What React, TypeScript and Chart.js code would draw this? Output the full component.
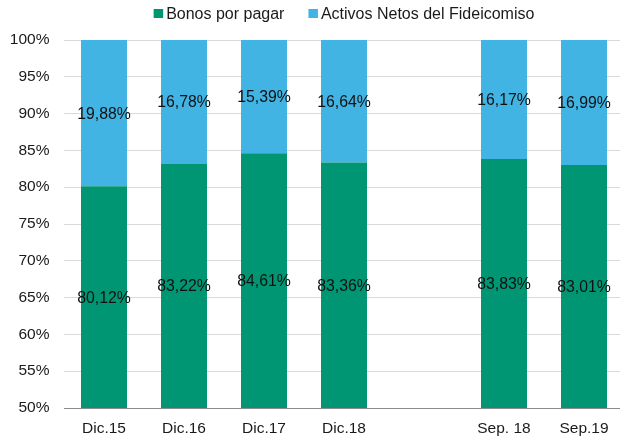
import React, { useEffect, useRef } from "react";
import { Chart, registerables } from "chart.js";

Chart.register(...registerables);

const categories = ["Dic.15", "Dic.16", "Dic.17", "Dic.18", "", "Sep. 18", "Sep.19"];
const bonosPorPagar = [80.12, 83.22, 84.61, 83.36, null, 83.83, 83.01];
const activosNetos = [19.88, 16.78, 15.39, 16.64, null, 16.17, 16.99];
const seriesNames = ["Bonos por pagar", "Activos Netos del Fideicomiso"];
const seriesColors = ["#009673", "#42B4E4"];

const FONT = '"Liberation Sans", Arial, sans-serif';

const fmt = (v: number) => v.toFixed(2).replace(".", ",") + "%";

const labelPlugin = {
  id: "segLabels",
  afterDatasetsDraw(chart: any) {
    const ctx = chart.ctx;
    const area = chart.chartArea;
    ctx.save();
    ctx.font = `15.8px ${FONT}`;
    ctx.fillStyle = "#111111";
    ctx.textAlign = "center";
    ctx.textBaseline = "middle";
    chart.data.datasets.forEach((ds: any, di: number) => {
      const meta = chart.getDatasetMeta(di);
      meta.data.forEach((bar: any, i: number) => {
        const v = ds.data[i];
        if (v == null) return;
        const top = Math.max(Math.min(bar.y, bar.base), area.top);
        const bottom = Math.min(Math.max(bar.y, bar.base), area.bottom);
        ctx.fillText(fmt(v), bar.x, (top + bottom) / 2 + 1);
      });
    });
    ctx.restore();
  },
};

const legendPlugin = {
  id: "customLegend",
  afterDraw(chart: any) {
    const ctx = chart.ctx;
    const area = chart.chartArea;
    ctx.save();
    ctx.font = `16px ${FONT}`;
    const box = 9.5;
    const gap = 3;
    const between = 24;
    const widths = seriesNames.map((n) => box + gap + ctx.measureText(n).width);
    const total = widths.reduce((a, b) => a + b, 0) + between * (widths.length - 1);
    let x = (area.left + area.right) / 2 - total / 2;
    seriesNames.forEach((n, i) => {
      ctx.fillStyle = seriesColors[i];
      ctx.fillRect(x, 9, box, 9);
      ctx.fillStyle = "#1a1a1a";
      ctx.textAlign = "left";
      ctx.textBaseline = "alphabetic";
      ctx.fillText(n, x + box + gap, 19);
      x += widths[i] + between;
    });
    ctx.restore();
  },
};

export default function App() {
  const ref = useRef<HTMLCanvasElement | null>(null);

  useEffect(() => {
    if (!ref.current) return;
    const chart = new Chart(ref.current, {
      type: "bar",
      data: {
        labels: categories,
        datasets: [
          {
            label: seriesNames[0],
            data: bonosPorPagar,
            backgroundColor: seriesColors[0],
            barPercentage: 0.575,
            categoryPercentage: 1,
          },
          {
            label: seriesNames[1],
            data: activosNetos,
            backgroundColor: seriesColors[1],
            barPercentage: 0.575,
            categoryPercentage: 1,
          },
        ],
      },
      options: {
        responsive: false,
        animation: false,
        devicePixelRatio: 1,
        layout: { padding: { top: 40, left: 9.5, right: 1, bottom: 1 } },
        plugins: {
          legend: { display: false },
          tooltip: { enabled: false },
        },
        scales: {
          x: {
            stacked: true,
            grid: { display: false, drawTicks: false },
            border: { display: true, color: "#8c8c8c", width: 1 },
            afterFit: (s: any) => {
              s.height = 28;
            },
            ticks: {
              padding: 11,
              color: "#1a1a1a",
              font: { family: FONT, size: 15.5 },
              autoSkip: false,
              maxRotation: 0,
            },
          },
          y: {
            stacked: true,
            min: 50,
            max: 100,
            afterFit: (s: any) => {
              s.width = 54.5;
            },
            grid: {
              drawTicks: false,
              color: (c: any) => (c.tick && c.tick.value === 50 ? "#8c8c8c" : "#d9d9d9"),
            },
            border: { display: false },
            ticks: {
              stepSize: 5,
              padding: 14.5,
              color: "#1a1a1a",
              font: { family: FONT, size: 15.5 },
              callback: (v: any) => v + "%",
            },
          },
        },
      },
      plugins: [labelPlugin, legendPlugin],
    });
    return () => chart.destroy();
  }, []);

  return (
    <div
      style={{
        position: "fixed",
        left: 0,
        top: 0,
        width: 620,
        height: 437,
        overflow: "hidden",
        background: "#ffffff",
      }}
    >
      <canvas ref={ref} width={625} height={437} style={{ display: "block" }} />
    </div>
  );
}
